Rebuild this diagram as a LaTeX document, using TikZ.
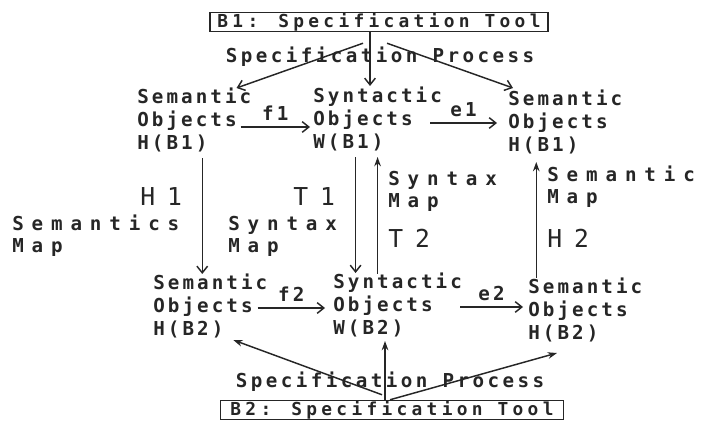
\documentclass[tikz,border=0pt]{standalone}
\usepackage{fontspec}
\usetikzlibrary{arrows.meta, positioning, calc}
\newfontfamily\objfont[LetterSpace=16]{DejaVu Sans Mono}
\newfontfamily\mapfont[LetterSpace=41]{DejaVu Sans Mono}
\newfontfamily\bigfont[LetterSpace=49]{DejaVu Sans Mono}
\newfontfamily\procfont[LetterSpace=18]{DejaVu Sans Mono}
\newfontfamily\toolfont[LetterSpace=24]{DejaVu Sans Mono}
\definecolor{inkgray}{HTML}{262626}

\begin{document}
\begin{tikzpicture}[
  x=0.75pt, y=-0.75pt,
  every node/.style={text=inkgray},
  objnode/.style={anchor=west, inner sep=0pt, align=left, font=\objfont\bfseries\fontsize{14.4pt}{17pt}\selectfont},
  maplabel/.style={anchor=west, inner sep=0pt, align=left, font=\mapfont\bfseries\fontsize{14.4pt}{16.5pt}\selectfont},
  biglabel/.style={anchor=west, inner sep=0pt, font=\bigfont\fontsize{18.5pt}{20pt}\selectfont},
  toolbox/.style={rectangle, draw=inkgray, line width=1.1pt, minimum height=19*0.75pt, inner sep=0pt, font=\toolfont\bfseries\fontsize{13.4pt}{14pt}\selectfont},
  proclabel/.style={inner sep=0pt, font=\procfont\bfseries\fontsize{14.4pt}{15pt}\selectfont},
  arrlabel/.style={inner sep=0pt, font=\objfont\bfseries\fontsize{14.4pt}{17pt}\selectfont},
  maparrow/.style={draw=inkgray, line width=1.1pt, -{Straight Barb[length=5pt, width=8pt]}},
  specarrow/.style={draw=inkgray, line width=1.1pt, -{Stealth[length=7pt, width=5pt]}},
]
\useasboundingbox (0,0) rectangle (705,423);

% Tools at top and bottom
\node[toolbox, minimum width=338*0.75pt] (b1) at (379, 22) {B1: Specification Tool};
\node[proclabel] (p1) at (380, 57) {Specification Process};
\node[toolbox, minimum width=343*0.75pt] (b2) at (392, 410) {B2: Specification Tool};
\node[proclabel] (p2) at (390, 382) {Specification Process};

% Object layers of B1
\node[objnode] (hb1l) at (137, 120) {Semantic\\Objects\\H(B1)};
\node[objnode] (wb1) at (313, 119) {Syntactic\\Objects\\W(B1)};
\node[objnode] (hb1r) at (508, 122) {Semantic\\Objects\\H(B1)};

% Object layers of B2
\node[objnode] (hb2l) at (153, 306) {Semantic\\Objects\\H(B2)};
\node[objnode] (wb2) at (333, 305) {Syntactic\\Objects\\W(B2)};
\node[objnode] (hb2r) at (528, 310) {Semantic\\Objects\\H(B2)};

% Map labels
\node[biglabel] (h1) at (140, 197) {H1};
\node[maplabel] (semmap) at (12, 236) {Semantics\\Map};
\node[biglabel] (t1) at (293, 197) {T1};
\node[maplabel] (synmapl) at (228, 236) {Syntax\\Map};
\node[maplabel] (synmapr) at (388, 191) {Syntax\\Map};
\node[biglabel] (t2) at (388, 238) {T2};
\node[maplabel] (semmapr) at (547, 187) {Semantic\\Map};
\node[biglabel] (h2) at (547, 238) {H2};

% Horizontal maps
\draw[maparrow] ($(hb1l.east)+(-11,7)$) -- node[arrlabel, above=4pt] (f1) {f1} ($(wb1.west)+(-3,8)$);
\draw[maparrow] ($(wb1.east)+(-12,4)$) -- node[arrlabel, above=4pt] (e1) {e1} ($(hb1r.west)+(-11,1)$);
\draw[maparrow] ($(hb2l.east)+(-10,2)$) -- node[arrlabel, above=4pt] (f2) {f2} ($(wb2.west)+(-8,3)$);
\draw[maparrow] ($(wb2.east)+(-2,2)$) -- node[arrlabel, above=4pt] (e2) {e2} ($(hb2r.west)+(-5,-3)$);

% Vertical maps
\draw[maparrow] ($(hb1l.south)+(8,6)$) coordinate (h1a) -- (h1a |- hb2l.north);
\draw[maparrow] ($(wb1.south)+(-22,6)$) coordinate (t1a) -- (t1a |- wb2.north);
\draw[specarrow] ($(wb2.north)+(-20,1)$) coordinate (t2a) -- ($(t2a |- wb1.south)+(0,6)$);
\draw[specarrow] ($(hb2r.north)+(-49,0)$) coordinate (h2a) -- ($(h2a |- hb1r.south)+(0,8)$);

% Specification process, top
\draw[maparrow] ($(b1.south)+(-9,0)$) coordinate (s1) -- ($(s1 |- wb1.north)+(0,-1)$);
\draw[maparrow] ($(b1.south)+(-16,11)$) -- ($(hb1l.north east)+(-15,0)$);
\draw[maparrow] ($(b1.south)+(8,11)$) -- ($(hb1r.north west)+(5,-2)$);

% Specification process, bottom
\draw[specarrow] ($(b2.north)+(-7,0)$) coordinate (s2) -- ($(s2 |- wb2.south)+(0,4)$);
\draw[specarrow] ($(b2.north)+(-10,-5)$) -- ($(hb2l.south)+(23,2)$);
\draw[specarrow] ($(b2.north)+(-2,0)$) -- ($(hb2r.south west)+(29,11)$);

\end{tikzpicture}
\end{document}
